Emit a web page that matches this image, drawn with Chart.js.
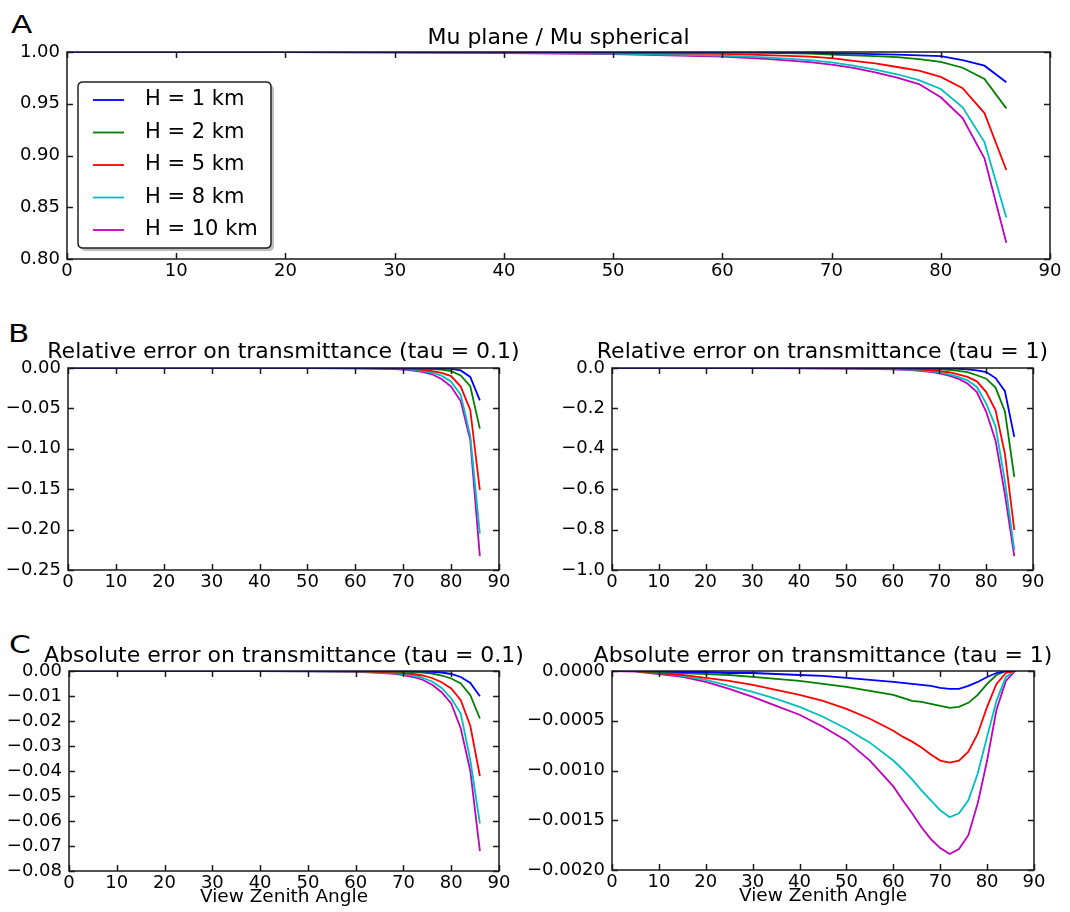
<!DOCTYPE html>
<html><head><meta charset="utf-8">
<script src="https://cdn.jsdelivr.net/npm/chart.js@4/dist/chart.umd.min.js"></script>
<style>
html,body{margin:0;padding:0;background:#fff;}
body{width:1070px;height:912px;overflow:hidden;position:relative;font-family:"DejaVu Sans";}
canvas{position:absolute;}
.lbl{position:absolute;font-family:"DejaVu Sans";font-size:24px;line-height:24px;color:#000;transform:scaleX(1.3);transform-origin:0 0;}
</style></head><body>
<div class="lbl" style="left:11px;top:13px">A</div>
<div class="lbl" style="left:8px;top:322px">B</div>
<div class="lbl" style="left:9px;top:633px">C</div>
<script>
// ---------------- data ----------------
const SERIES_LABELS = ['H = 1 km', 'H = 2 km', 'H = 5 km', 'H = 8 km', 'H = 10 km'];

const X_COARSE = [0, 10, 20, 30, 40, 50, 60, 64, 68, 70, 72, 74, 76, 78, 80, 82, 84, 86];
const X_FINE = [0, 5, 10, 15, 20, 25, 30, 35, 40, 45, 50, 55, 60, 62, 64, 66, 68, 70, 72, 74, 76, 78, 80, 82, 84, 86];

const X_TICKS = [0, 10, 20, 30, 40, 50, 60, 70, 80, 90];
const X_TICK_LABELS = ['0', '10', '20', '30', '40', '50', '60', '70', '80', '90'];
const X_AXIS_TITLE = 'View Zenith Angle';

// Panel A: Mu plane / Mu spherical (on X_COARSE)
const A_H1  = [1.0000, 1.0000, 1.0000, 1.0000, 0.9999, 0.9999, 0.9998, 0.9996, 0.9993, 0.9988, 0.9984, 0.9980, 0.9975, 0.9968, 0.9960, 0.9922, 0.9868, 0.9707];
const A_H2  = [1.0000, 1.0000, 1.0000, 0.9999, 0.9999, 0.9998, 0.9995, 0.9991, 0.9984, 0.9975, 0.9967, 0.9960, 0.9950, 0.9932, 0.9905, 0.9848, 0.9740, 0.9455];
const A_H5  = [1.0000, 1.0000, 0.9999, 0.9998, 0.9996, 0.9992, 0.9982, 0.9970, 0.9955, 0.9940, 0.9915, 0.9890, 0.9855, 0.9820, 0.9760, 0.9650, 0.9410, 0.8860];
const A_H8  = [1.0000, 1.0000, 0.9999, 0.9997, 0.9993, 0.9985, 0.9965, 0.9948, 0.9922, 0.9900, 0.9868, 0.9830, 0.9785, 0.9728, 0.9643, 0.9465, 0.9130, 0.8400];
const A_H10 = [1.0000, 1.0000, 0.9998, 0.9995, 0.9990, 0.9979, 0.9955, 0.9933, 0.9903, 0.9878, 0.9846, 0.9803, 0.9753, 0.9690, 0.9562, 0.9362, 0.8973, 0.8157];
const A_Y_TICKS = [0.80, 0.85, 0.90, 0.95, 1.00];
const A_Y_LABELS = ['0.80', '0.85', '0.90', '0.95', '1.00'];

// Panel B left: relative error on transmittance, tau = 0.1 (on X_COARSE)
const BL_H1  = [0, 0, 0, 0, 0, 0, 0, -0.00003, -0.00007, -0.0001, -0.00015, -0.00025, -0.0004, -0.0007, -0.0012, -0.0030, -0.0110, -0.0400];
const BL_H2  = [0, 0, 0, 0, 0, 0, -0.0001, -0.00015, -0.0003, -0.0004, -0.0006, -0.0009, -0.0014, -0.0021, -0.0040, -0.0092, -0.0225, -0.0750];
const BL_H5  = [0, 0, 0, 0, -0.00005, -0.0001, -0.0002, -0.0004, -0.0007, -0.0010, -0.0015, -0.0024, -0.0038, -0.0060, -0.0100, -0.0230, -0.0520, -0.1510];
const BL_H8  = [0, 0, 0, -0.00003, -0.00007, -0.00015, -0.0003, -0.0006, -0.0011, -0.0016, -0.0024, -0.0036, -0.0058, -0.0095, -0.0170, -0.0330, -0.0840, -0.2050];
const BL_H10 = [0, 0, -0.00002, -0.00004, -0.0001, -0.0002, -0.0004, -0.0008, -0.0015, -0.0021, -0.0032, -0.0049, -0.0078, -0.0136, -0.0230, -0.0410, -0.0890, -0.2330];
const BL_Y_TICKS = [-0.25, -0.20, -0.15, -0.10, -0.05, 0.00];
const BL_Y_LABELS = ['\u22120.25', '\u22120.20', '\u22120.15', '\u22120.10', '\u22120.05', '0.00'];

// Panel B right: relative error on transmittance, tau = 1 (on X_COARSE)
const BR_H1  = [0, 0, 0, 0, -0.0001, -0.0002, -0.0005, -0.0008, -0.0014, -0.002, -0.003, -0.004, -0.007, -0.012, -0.020, -0.050, -0.115, -0.341];
const BR_H2  = [0, 0, 0, -0.0001, -0.0002, -0.0005, -0.0012, -0.002, -0.004, -0.006, -0.009, -0.014, -0.020, -0.036, -0.053, -0.097, -0.215, -0.539];
const BR_H5  = [0, 0, -0.0001, -0.0003, -0.0006, -0.0012, -0.003, -0.005, -0.010, -0.015, -0.021, -0.031, -0.044, -0.066, -0.119, -0.210, -0.425, -0.802];
const BR_H8  = [0, 0, -0.0002, -0.0005, -0.001, -0.002, -0.005, -0.008, -0.015, -0.022, -0.031, -0.044, -0.061, -0.094, -0.176, -0.290, -0.560, -0.901];
const BR_H10 = [0, -0.0001, -0.0003, -0.0006, -0.0012, -0.0025, -0.0065, -0.011, -0.019, -0.027, -0.038, -0.053, -0.077, -0.119, -0.217, -0.360, -0.625, -0.931];
const BR_Y_TICKS = [-1.0, -0.8, -0.6, -0.4, -0.2, 0.0];
const BR_Y_LABELS = ['\u22121.0', '\u22120.8', '\u22120.6', '\u22120.4', '\u22120.2', '0.0'];

// Panel C left: absolute error on transmittance, tau = 0.1 (on X_COARSE)
const CL_H1  = [0, 0, 0, 0, 0, 0, -0.00002, -0.00003, -0.00005, -0.00007, -0.0001, -0.00015, -0.0003, -0.0006, -0.0012, -0.0024, -0.0048, -0.0101];
const CL_H2  = [0, 0, 0, 0, -0.00001, -0.00002, -0.00006, -0.0001, -0.0002, -0.0003, -0.0004, -0.0006, -0.0010, -0.0018, -0.0030, -0.0050, -0.0097, -0.0190];
const CL_H5  = [0, 0, 0, -0.00001, -0.00003, -0.00006, -0.00017, -0.0003, -0.0005, -0.0008, -0.0012, -0.0018, -0.0028, -0.0045, -0.0070, -0.0117, -0.0220, -0.0420];
const CL_H8  = [0, 0, 0, -0.00002, -0.00004, -0.0001, -0.00026, -0.0005, -0.0008, -0.0012, -0.0018, -0.0027, -0.0042, -0.0068, -0.0110, -0.0170, -0.0357, -0.0610];
const CL_H10 = [0, 0, -0.00001, -0.00003, -0.00006, -0.00013, -0.00035, -0.0006, -0.0011, -0.0016, -0.0024, -0.0035, -0.0055, -0.0085, -0.0130, -0.0230, -0.0400, -0.0720];
const CL_Y_TICKS = [-0.08, -0.07, -0.06, -0.05, -0.04, -0.03, -0.02, -0.01, 0.00];
const CL_Y_LABELS = ['\u22120.08', '\u22120.07', '\u22120.06', '\u22120.05', '\u22120.04', '\u22120.03', '\u22120.02', '\u22120.01', '0.00'];

// Panel C right: absolute error on transmittance, tau = 1 (on X_FINE)
const CR_H1  = [0, 0, 0, -0.00001, -0.00001, -0.00002, -0.00002, -0.00003, -0.00004, -0.00005, -0.00007, -0.00009, -0.00011, -0.00012, -0.00013, -0.00014, -0.00015, -0.00017, -0.00018, -0.00018, -0.00015, -0.00011, -0.00006, -0.00002, 0, 0];
const CR_H2  = [0, 0, -0.00001, -0.00002, -0.00003, -0.00004, -0.00006, -0.00008, -0.0001, -0.00013, -0.00016, -0.0002, -0.00024, -0.00027, -0.0003, -0.00031, -0.00033, -0.00035, -0.00037, -0.00036, -0.00032, -0.00024, -0.00013, -0.00004, 0, 0];
const CR_H5  = [0, 0, -0.00002, -0.00004, -0.00007, -0.0001, -0.00014, -0.00019, -0.00024, -0.0003, -0.00038, -0.00048, -0.0006, -0.00066, -0.00071, -0.00077, -0.00084, -0.0009, -0.00092, -0.0009, -0.00081, -0.00063, -0.00036, -0.00013, -0.00002, 0];
const CR_H8  = [0, 0, -0.00002, -0.00005, -0.00009, -0.00015, -0.00021, -0.00028, -0.00036, -0.00046, -0.00058, -0.00072, -0.0009, -0.00099, -0.00109, -0.0012, -0.0013, -0.0014, -0.00147, -0.00143, -0.0013, -0.00103, -0.00066, -0.0003, -0.00006, 0];
const CR_H10 = [0, -0.000005, -0.00003, -0.00006, -0.00011, -0.00018, -0.00026, -0.00035, -0.00044, -0.00056, -0.0007, -0.0009, -0.00116, -0.0013, -0.00143, -0.00157, -0.00169, -0.00178, -0.00184, -0.00179, -0.00165, -0.00133, -0.0009, -0.00039, -0.0001, 0];
const CR_Y_TICKS = [-0.0020, -0.0015, -0.0010, -0.0005, 0.0000];
const CR_Y_LABELS = ['\u22120.0020', '\u22120.0015', '\u22120.0010', '\u22120.0005', '0.0000'];

// ---------------- rendering ----------------
Chart.defaults.font.family = '"DejaVu Sans", sans-serif';
Chart.defaults.color = '#000';
const LINE_COLORS = ['#0000ff', '#008000', '#ff0000', '#00bfbf', '#bf00bf'];

const framePlugin = {
  id: 'mplFrame',
  afterDatasetsDraw(chart) {
    const {ctx, chartArea: a} = chart;
    const x = chart.scales.x, y = chart.scales.y;
    ctx.save();
    ctx.strokeStyle = '#1a1a1a';
    ctx.lineWidth = 1.5;
    ctx.beginPath();
    x.ticks.forEach(t => {
      const px = Math.round(x.getPixelForValue(t.value)) + 0.5;
      ctx.moveTo(px, a.bottom); ctx.lineTo(px, a.bottom - 6);
      ctx.moveTo(px, a.top); ctx.lineTo(px, a.top + 6);
    });
    y.ticks.forEach(t => {
      const py = Math.round(y.getPixelForValue(t.value)) + 0.5;
      ctx.moveTo(a.left, py); ctx.lineTo(a.left + 6, py);
      ctx.moveTo(a.right, py); ctx.lineTo(a.right - 6, py);
    });
    ctx.stroke();
    ctx.strokeRect(a.left, a.top, a.right - a.left, a.bottom - a.top);
    ctx.restore();
  }
};

function roundRectPath(ctx, x, y, w, h, r) {
  ctx.beginPath();
  ctx.moveTo(x + r, y);
  ctx.lineTo(x + w - r, y); ctx.quadraticCurveTo(x + w, y, x + w, y + r);
  ctx.lineTo(x + w, y + h - r); ctx.quadraticCurveTo(x + w, y + h, x + w - r, y + h);
  ctx.lineTo(x + r, y + h); ctx.quadraticCurveTo(x, y + h, x, y + h - r);
  ctx.lineTo(x, y + r); ctx.quadraticCurveTo(x, y, x + r, y);
  ctx.closePath();
}

const insideLegend = {
  id: 'insideLegend',
  afterDraw(chart) {
    const {ctx, chartArea: a} = chart;
    const bx = a.left + 11, by = a.top + 30, bw = 193, bh = 166;
    ctx.save();
    ctx.fillStyle = 'rgba(0,0,0,0.25)';
    roundRectPath(ctx, bx + 3, by + 3, bw, bh, 5); ctx.fill();
    ctx.fillStyle = '#fff';
    roundRectPath(ctx, bx, by, bw, bh, 5); ctx.fill();
    ctx.strokeStyle = '#222'; ctx.lineWidth = 1.5; ctx.stroke();
    ctx.font = '21px "DejaVu Sans"';
    ctx.textBaseline = 'middle';
    ctx.textAlign = 'left';
    chart.data.datasets.forEach((ds, i) => {
      const cy = by + 18 + i * 32.5;
      ctx.strokeStyle = ds.borderColor; ctx.lineWidth = 1.8;
      ctx.beginPath(); ctx.moveTo(bx + 15, cy); ctx.lineTo(bx + 46, cy); ctx.stroke();
      ctx.fillStyle = '#000';
      ctx.fillText(ds.label, bx + 67, cy);
    });
    ctx.restore();
  }
};

function panel(cfg) {
  const {rect, W, title, titleBaseline, xs, series, yMin, yMax, yTicks, yLabels, xTitle, legend} = cfg;
  const TITLE_H = 40;
  const Hx = xTitle ? 40 : 34;
  const plotW = rect.r - rect.l, plotH = rect.b - rect.t;
  const cw = plotW + 2 * W, ch = TITLE_H + plotH + Hx;
  const cl = rect.l - W, ct = rect.t - TITLE_H;
  const canvas = document.createElement('canvas');
  canvas.width = cw; canvas.height = ch;
  canvas.style.left = cl + 'px'; canvas.style.top = ct + 'px';
  canvas.style.width = cw + 'px'; canvas.style.height = ch + 'px';
  document.body.appendChild(canvas);
  const mid = titleBaseline - 0.346 * 22 - ct;
  const pT = mid - 11;
  const plugins = [framePlugin];
  if (legend) plugins.push(insideLegend);
  return new Chart(canvas, {
    type: 'line',
    data: {
      datasets: series.map((ys, i) => ({
        label: SERIES_LABELS[i],
        data: xs.map((x, j) => ({x: x, y: ys[j]})),
        borderColor: LINE_COLORS[i],
        backgroundColor: LINE_COLORS[i],
        borderWidth: 1.8,
        pointRadius: 0,
        fill: false,
        tension: 0
      }))
    },
    options: {
      responsive: false,
      animation: false,
      devicePixelRatio: 1,
      layout: {padding: 0},
      plugins: {
        legend: {display: false},
        tooltip: {enabled: false},
        title: {
          display: true, text: title, color: '#000',
          font: {size: 22, weight: 'normal', lineHeight: 1},
          padding: {top: pT, bottom: TITLE_H - 22 - pT}
        }
      },
      scales: {
        x: {
          type: 'linear', min: 0, max: 90,
          grid: {display: false, drawTicks: false, tickLength: 0},
          border: {display: false},
          afterBuildTicks: s => { s.ticks = X_TICKS.map(v => ({value: v})); },
          afterFit: s => { s.height = Hx; },
          ticks: {autoSkip: false, maxRotation: 0, padding: 2, color: '#000', font: {size: 18},
                  callback: (v, i) => X_TICK_LABELS[i]},
          title: xTitle ? {display: true, text: xTitle, color: '#000', font: {size: 18.5, lineHeight: 1},
                           padding: {top: 0, bottom: 5}} : {display: false}
        },
        y: {
          type: 'linear', min: yMin, max: yMax, position: 'left',
          grid: {display: false, drawTicks: false, tickLength: 0},
          border: {display: false},
          afterBuildTicks: s => { s.ticks = yTicks.map(v => ({value: v})); },
          afterFit: s => { s.width = W; },
          ticks: {autoSkip: false, padding: 7, color: '#000', font: {size: 18},
                  callback: (v, i) => yLabels[i]}
        },
        yPad: {
          type: 'linear', position: 'right', display: true,
          grid: {display: false, drawTicks: false, tickLength: 0},
          border: {display: false},
          ticks: {display: false},
          afterFit: s => { s.width = W; }
        }
      }
    },
    plugins: plugins
  });
}

panel({rect: {l: 67, t: 52, r: 1050, b: 259}, W: 67, title: 'Mu plane / Mu spherical', titleBaseline: 46,
  xs: X_COARSE, series: [A_H1, A_H2, A_H5, A_H8, A_H10], yMin: 0.8, yMax: 1.0,
  yTicks: A_Y_TICKS, yLabels: A_Y_LABELS, legend: true});

panel({rect: {l: 68, t: 368, r: 499, b: 570}, W: 68, title: 'Relative error on transmittance (tau = 0.1)', titleBaseline: 359.5,
  xs: X_COARSE, series: [BL_H1, BL_H2, BL_H5, BL_H8, BL_H10], yMin: -0.25, yMax: 0,
  yTicks: BL_Y_TICKS, yLabels: BL_Y_LABELS});

panel({rect: {l: 612, t: 368, r: 1033, b: 570}, W: 100, title: 'Relative error on transmittance (tau = 1)', titleBaseline: 359.5,
  xs: X_COARSE, series: [BR_H1, BR_H2, BR_H5, BR_H8, BR_H10], yMin: -1.0, yMax: 0,
  yTicks: BR_Y_TICKS, yLabels: BR_Y_LABELS});

panel({rect: {l: 69, t: 671, r: 499, b: 871}, W: 69, title: 'Absolute error on transmittance (tau = 0.1)', titleBaseline: 663.5,
  xs: X_COARSE, series: [CL_H1, CL_H2, CL_H5, CL_H8, CL_H10], yMin: -0.08, yMax: 0,
  yTicks: CL_Y_TICKS, yLabels: CL_Y_LABELS, xTitle: X_AXIS_TITLE});

panel({rect: {l: 612, t: 671, r: 1034, b: 870}, W: 100, title: 'Absolute error on transmittance (tau = 1)', titleBaseline: 663.5,
  xs: X_FINE, series: [CR_H1, CR_H2, CR_H5, CR_H8, CR_H10], yMin: -0.002, yMax: 0,
  yTicks: CR_Y_TICKS, yLabels: CR_Y_LABELS, xTitle: X_AXIS_TITLE});
</script>
</body></html>
